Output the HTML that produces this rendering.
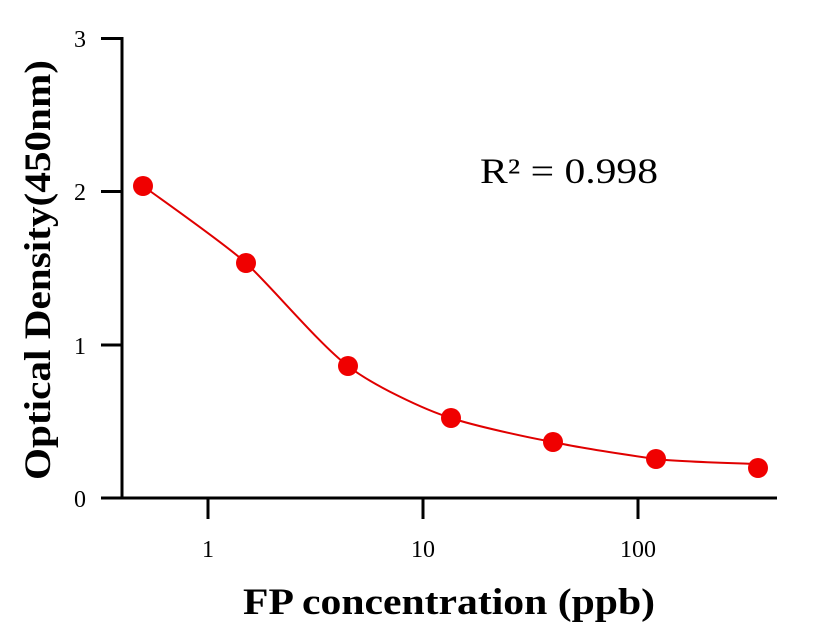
<!DOCTYPE html>
<html><head><meta charset="utf-8"><style>
html,body{margin:0;padding:0;background:#fff;}
svg{display:block;}
text{font-family:"Liberation Serif",serif;fill:#000;}
</style></head><body>
<svg width="816" height="640" viewBox="0 0 816 640" xmlns="http://www.w3.org/2000/svg">
<g stroke="#000" stroke-width="3" fill="none">
<line x1="122" y1="37" x2="122" y2="499"/>
<line x1="101" y1="498" x2="777" y2="498"/>
<line x1="101" y1="38.5" x2="122" y2="38.5"/>
<line x1="101" y1="191.5" x2="122" y2="191.5"/>
<line x1="101" y1="345" x2="122" y2="345"/>
<line x1="208" y1="498" x2="208" y2="519"/>
<line x1="423" y1="498" x2="423" y2="519"/>
<line x1="638" y1="498" x2="638" y2="519"/>
</g>
<g font-size="24" text-anchor="end">
<text x="86" y="47">3</text>
<text x="86" y="200">2</text>
<text x="86" y="354">1</text>
<text x="86" y="507">0</text>
</g>
<g font-size="24" text-anchor="middle">
<text x="208" y="557">1</text>
<text x="423" y="557">10</text>
<text x="638" y="557">100</text>
</g>
<text x="243" y="614" font-size="37" font-weight="bold" textLength="412" lengthAdjust="spacingAndGlyphs">FP concentration (ppb)</text>
<text transform="translate(50,480) rotate(-90)" font-size="37" font-weight="bold" textLength="420" lengthAdjust="spacingAndGlyphs">Optical Density(450nm)</text>
<text x="480" y="183" font-size="36" textLength="178" lengthAdjust="spacingAndGlyphs">R² = 0.998</text>
<path d="M143,186 C165,202 225,244 246,263 C270,285 320,345 348,366 C372,385 425,410 451,418 C475,426 530,438 553,442 C580,448 635,456 656,459 C680,462 735,463 758,464" stroke="#e00000" stroke-width="2" fill="none"/>
<g fill="#f00000">
<circle cx="143" cy="186" r="10"/>
<circle cx="246" cy="263" r="10"/>
<circle cx="348" cy="366" r="10"/>
<circle cx="451" cy="418" r="10"/>
<circle cx="553" cy="442" r="10"/>
<circle cx="656" cy="459" r="10"/>
<circle cx="758" cy="468" r="10"/>
</g>
</svg>
</body></html>
